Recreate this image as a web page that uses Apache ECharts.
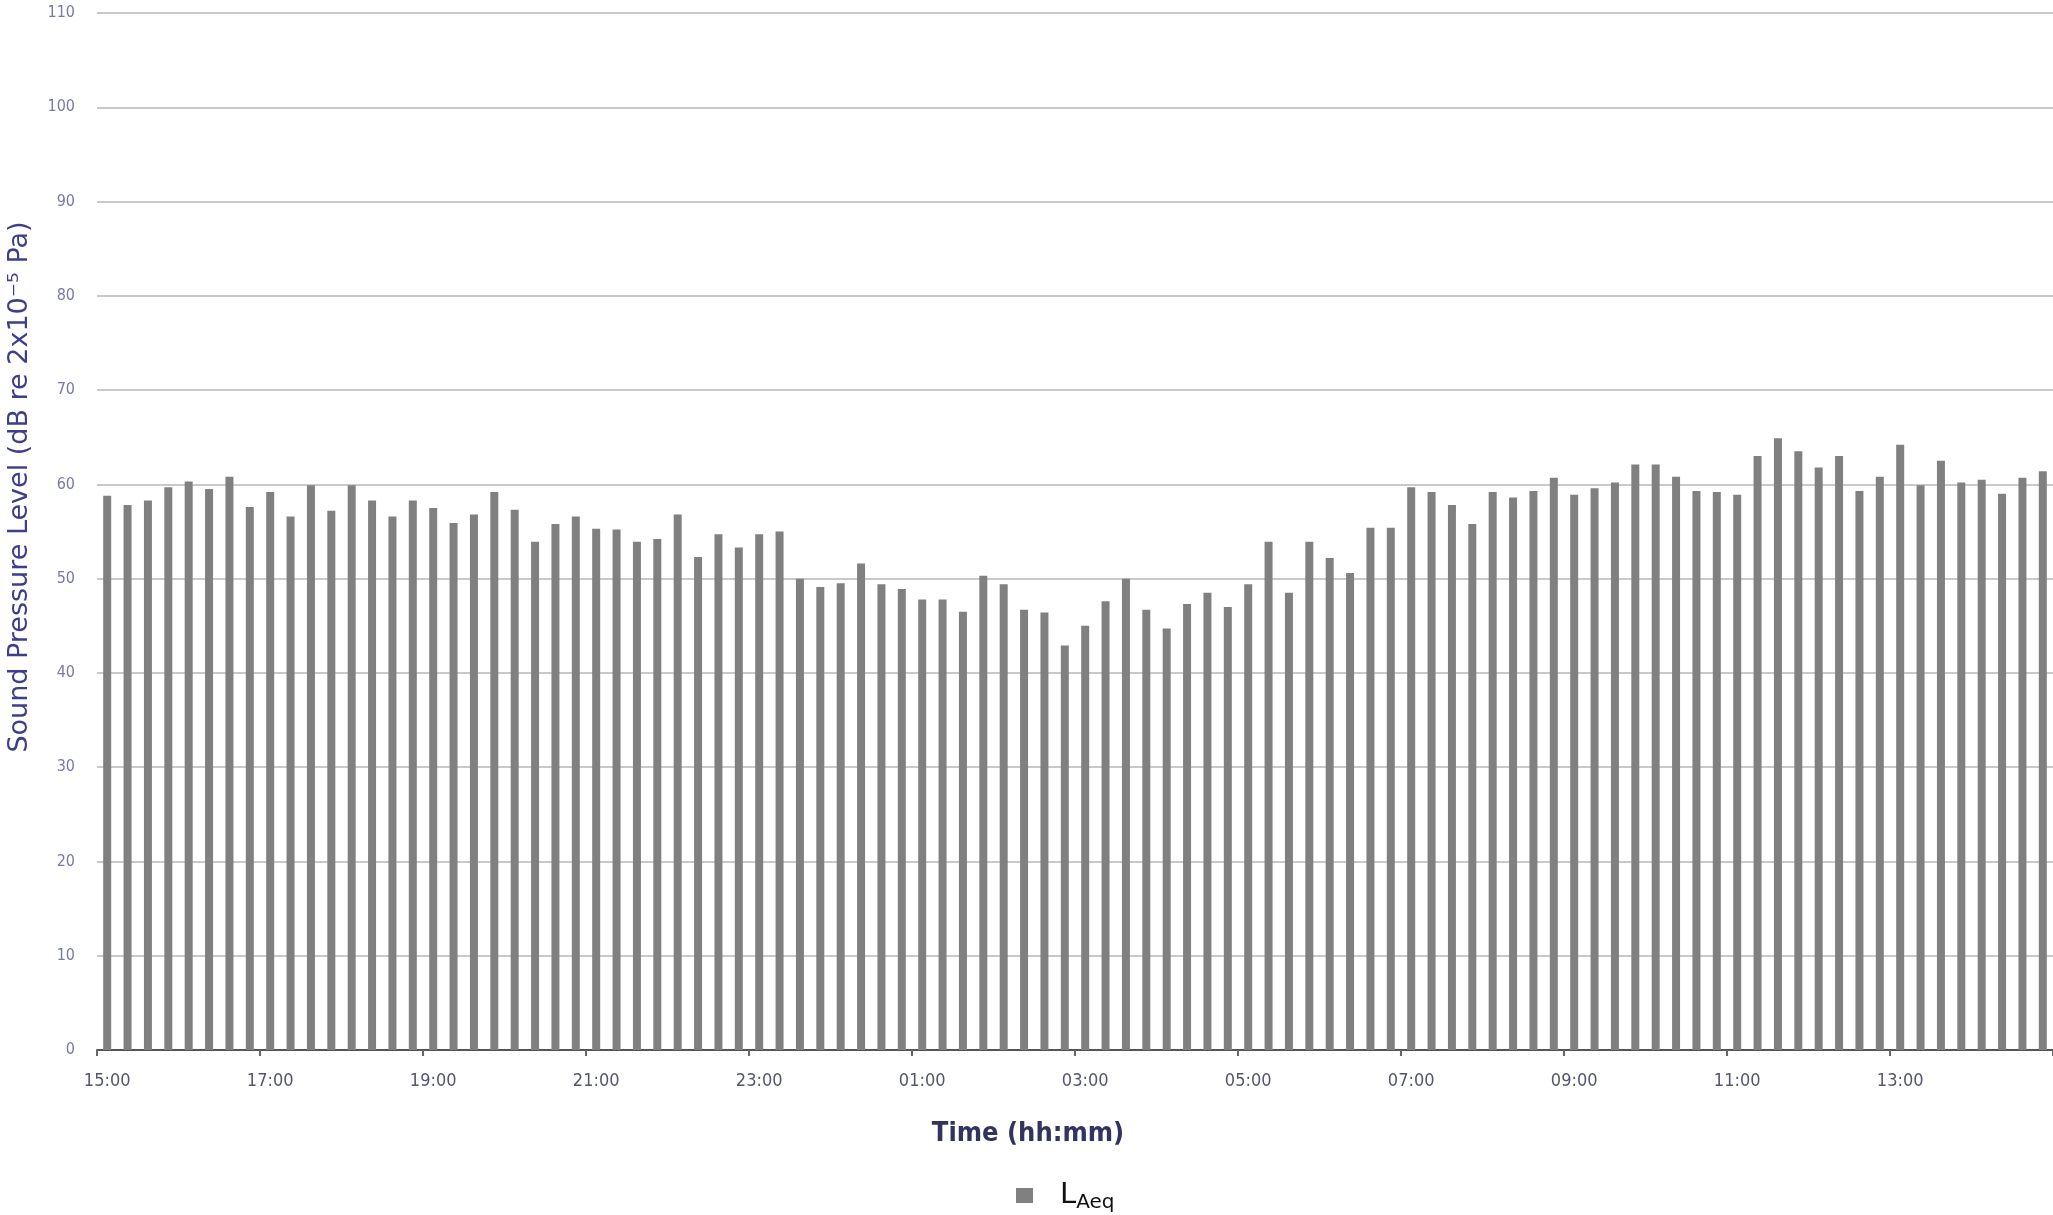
<!DOCTYPE html>
<html>
<head>
<meta charset="utf-8">
<script src="https://cdn.jsdelivr.net/npm/echarts@6/dist/echarts.min.js"></script>
<style>html,body{margin:0;padding:0;background:#fff}#c{width:2053px;height:1215px}</style>
</head>
<body>
<div id="c"></div>
<script>
// 15-minute intervals from 15:00 to 14:45
const times = [
 '15:00','15:15','15:30','15:45','16:00','16:15','16:30','16:45',
 '17:00','17:15','17:30','17:45','18:00','18:15','18:30','18:45',
 '19:00','19:15','19:30','19:45','20:00','20:15','20:30','20:45',
 '21:00','21:15','21:30','21:45','22:00','22:15','22:30','22:45',
 '23:00','23:15','23:30','23:45','00:00','00:15','00:30','00:45',
 '01:00','01:15','01:30','01:45','02:00','02:15','02:30','02:45',
 '03:00','03:15','03:30','03:45','04:00','04:15','04:30','04:45',
 '05:00','05:15','05:30','05:45','06:00','06:15','06:30','06:45',
 '07:00','07:15','07:30','07:45','08:00','08:15','08:30','08:45',
 '09:00','09:15','09:30','09:45','10:00','10:15','10:30','10:45',
 '11:00','11:15','11:30','11:45','12:00','12:15','12:30','12:45',
 '13:00','13:15','13:30','13:45','14:00','14:15','14:30','14:45'
];
const laeq = [
 58.8,57.8,58.3,59.7,60.3,59.5,60.8,57.6,
 59.2,56.6,59.9,57.2,59.9,58.3,56.6,58.3,
 57.5,55.9,56.8,59.2,57.3,53.9,55.8,56.6,
 55.3,55.2,53.9,54.2,56.8,52.3,54.7,53.3,
 54.7,55.0,50.0,49.1,49.5,51.6,49.4,48.9,
 47.8,47.8,46.5,50.3,49.4,46.7,46.4,42.9,
 45.0,47.6,50.0,46.7,44.7,47.3,48.5,47.0,
 49.4,53.9,48.5,53.9,52.2,50.6,55.4,55.4,
 59.7,59.2,57.8,55.8,59.2,58.6,59.3,60.7,
 58.9,59.6,60.2,62.1,62.1,60.8,59.3,59.2,
 58.9,63.0,64.9,63.5,61.8,63.0,59.3,60.8,
 64.2,59.9,62.5,60.2,60.5,59.0,60.7,61.4
];
const yMin = 0, yMax = 110, yStep = 10;
const seriesName = 'LAeq';
const yTitle = 'Sound Pressure Level (dB re 2x10\u207B\u2075 Pa)';
const xTitle = 'Time (hh:mm)';

const narrow = "'Liberation Sans Narrow','DejaVu Sans Condensed',sans-serif";
const chart = echarts.init(document.getElementById('c'), null, {renderer: 'canvas'});
chart.setOption({
  animation: false,
  backgroundColor: '#ffffff',
  grid: {left: 97, right: 0, top: 13, bottom: 165, containLabel: false},
  xAxis: {
    type: 'category',
    data: times,
    boundaryGap: true,
    axisLine: {show: true, lineStyle: {color: '#555555', width: 2}},
    axisTick: {show: true, interval: 7, length: 6, lineStyle: {color: '#666666', width: 2}},
    axisLabel: {interval: 7, color: '#55556f', fontSize: 18, fontFamily: narrow, margin: 22},
    splitLine: {show: false}
  },
  yAxis: {
    type: 'value',
    min: yMin, max: yMax, interval: yStep,
    axisLine: {show: false},
    axisTick: {show: false},
    axisLabel: {color: '#7878aa', fontSize: 16, fontFamily: narrow, margin: 22},
    splitLine: {show: true, lineStyle: {color: '#c9c9c9', width: 2}}
  },
  legend: {
    show: true,
    left: 1011, top: 1176,
    icon: 'rect', itemWidth: 17, itemHeight: 15, itemGap: 10,
    data: [seriesName],
    formatter: () => '{l|L}{s|Aeq}',
    textStyle: {
      color: '#111111',
      rich: {
        l: {fontSize: 29, fontFamily: "'DejaVu Sans',sans-serif", color: '#111111', padding: [0, 0, 0, 22]},
        s: {fontSize: 20, fontFamily: "'DejaVu Sans',sans-serif", color: '#111111', padding: [14, 0, 0, 0]}
      }
    }
  },
  graphic: [
    {
      type: 'text', x: 20, y: 487, rotation: Math.PI / 2,
      style: {text: yTitle, fill: '#3e3e8c', fontSize: 27, fontFamily: "'DejaVu Sans',sans-serif",
        align: 'center', verticalAlign: 'middle'}
    },
    {
      type: 'text', x: 1028, y: 1134,
      style: {text: xTitle, fill: '#33335f', fontSize: 27, fontWeight: 'bold', fontFamily: "'DejaVu Sans Condensed','DejaVu Sans',sans-serif",
        align: 'center', verticalAlign: 'middle'}
    }
  ],
  series: [{
    name: seriesName,
    type: 'bar',
    data: laeq,
    barWidth: 8,
    itemStyle: {color: '#808080'}
  }]
});
</script>
</body>
</html>
